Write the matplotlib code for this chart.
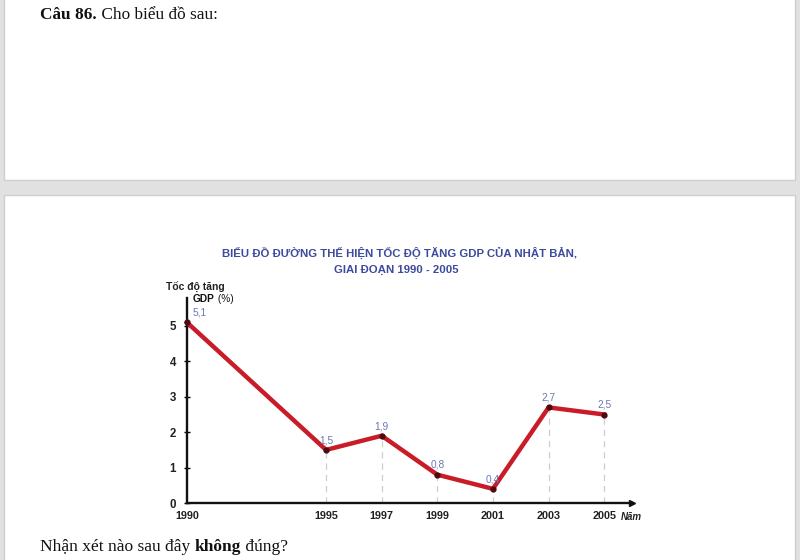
import matplotlib.pyplot as plt
from matplotlib.patches import Rectangle

# Data
years = [1990, 1995, 1997, 1999, 2001, 2003, 2005]
gdp_growth = [5.1, 1.5, 1.9, 0.8, 0.4, 2.7, 2.5]
value_labels = ["5,1", "1,5", "1,9", "0,8", "0,4", "2,7", "2,5"]
y_ticks = [0, 1, 2, 3, 4, 5]

title_line1 = "BIỂU ĐỒ ĐƯỜNG THỂ HIỆN TỐC ĐỘ TĂNG GDP CỦA NHẬT BẢN,"
title_line2 = "GIAI ĐOẠN 1990 - 2005"

W, H = 800, 560
fig = plt.figure(figsize=(W / 100, H / 100), dpi=100)
fig.patch.set_facecolor("#e1e1e1")

def px(x, y):
    # pixel coords (from top-left) -> figure fraction
    return x / W, 1 - y / H

# white page panels
for (x0, y0, x1, y1) in [(4, -5, 795, 180), (4, 195, 795, 570)]:
    fig.patches.append(Rectangle((x0 / W, 1 - y1 / H), (x1 - x0) / W, (y1 - y0) / H,
                                 transform=fig.transFigure, facecolor="white",
                                 edgecolor="#cfcfcf", lw=1, zorder=-5))

serif = "Liberation Serif"
sans = "Liberation Sans"

def text_run(parts, x, y, size, family):
    # draw a line of text made of (string, weight) pieces next to each other
    fig.canvas.draw()
    r = fig.canvas.get_renderer()
    cx = x
    for s, w in parts:
        t = fig.text(cx / W, 1 - y / H, s, fontsize=size, fontweight=w,
                     family=family, va="center", ha="left", color="#111111")
        bb = t.get_window_extent(renderer=r)
        cx += bb.width

text_run([("Câu 86.", "bold"), (" Cho biểu đồ sau:", "normal")], 40, 15, 12.4, serif)
text_run([("Nhận xét nào sau đây ", "normal"), ("không", "bold"), (" đúng?", "normal")],
         40, 547, 12.5, serif)

# chart title
fig.text(*px(400, 253), title_line1, ha="center", va="center", fontsize=8.2,
         fontweight="bold", color="#3d4b9e", family=sans)
fig.text(*px(396, 270), title_line2, ha="center", va="center", fontsize=8.2,
         fontweight="bold", color="#3d4b9e", family=sans)

# y axis label
fig.text(*px(166, 287), "Tốc độ tăng", ha="left", va="center", fontsize=7.5,
         fontweight="bold", color="#222222", family=sans)
text_run([("GDP", "bold"), (" (%)", "normal")], 193, 299, 7.3, sans)

# chart axes
ax = fig.add_axes([187 / W, 57 / H, 445 / W, 205 / H])
ax.set_zorder(2)
ax.set_facecolor("none")
ax.set_xlim(1990, 2006)
ax.set_ylim(0, 205 / 35.4)

for s in ["top", "right"]:
    ax.spines[s].set_visible(False)
for s in ["left", "bottom"]:
    ax.spines[s].set_linewidth(1.7)
    ax.spines[s].set_color("#111111")
ax.plot(1, 0, ">", color="#111111", ms=5, transform=ax.get_yaxis_transform(), clip_on=False)
ax.plot(0, 1, "^", color="#111111", ms=4, transform=ax.get_xaxis_transform(), clip_on=False)

ax.set_yticks(y_ticks)
ax.set_xticks(years)
ax.set_xticklabels([str(y) for y in years])
ax.tick_params(axis="y", direction="inout", length=4, width=1, labelsize=8.3, pad=6)
ax.tick_params(axis="x", length=0, labelsize=7.8, pad=6)
for lab in ax.get_xticklabels() + ax.get_yticklabels():
    lab.set_fontweight("bold")
    lab.set_family(sans)
    lab.set_color("#222222")

# dashed drop lines
for x, v in zip(years[1:], gdp_growth[1:]):
    ax.vlines(x, 0, v, colors="#cfcfcf", linestyles=(0, (5, 4)), lw=0.9, zorder=1)

ax.plot(years, gdp_growth, color="#c81d28", lw=3.2, solid_joinstyle="miter", zorder=3,
        clip_on=False)
ax.plot(years, gdp_growth, "o", color="#4e0a10", ms=3.5, zorder=4, clip_on=False)

for i, (x, v, s) in enumerate(zip(years, gdp_growth, value_labels)):
    if i == 0:
        ax.annotate(s, (x, v), xytext=(4, 7), textcoords="offset points", ha="left",
                    va="center", fontsize=7.3, color="#6a78b4", family=sans)
    else:
        ax.annotate(s, (x, v), xytext=(0, 7), textcoords="offset points", ha="center",
                    va="center", fontsize=7.3, color="#6a78b4", family=sans)

ax.text((621 - 187) / 445, -14 / 205, "Năm", transform=ax.transAxes, ha="left", va="center",
        fontsize=7, fontweight="bold", fontstyle="italic", color="#222222", family=sans)

fig.savefig("out.png", dpi=100, facecolor=fig.get_facecolor())
